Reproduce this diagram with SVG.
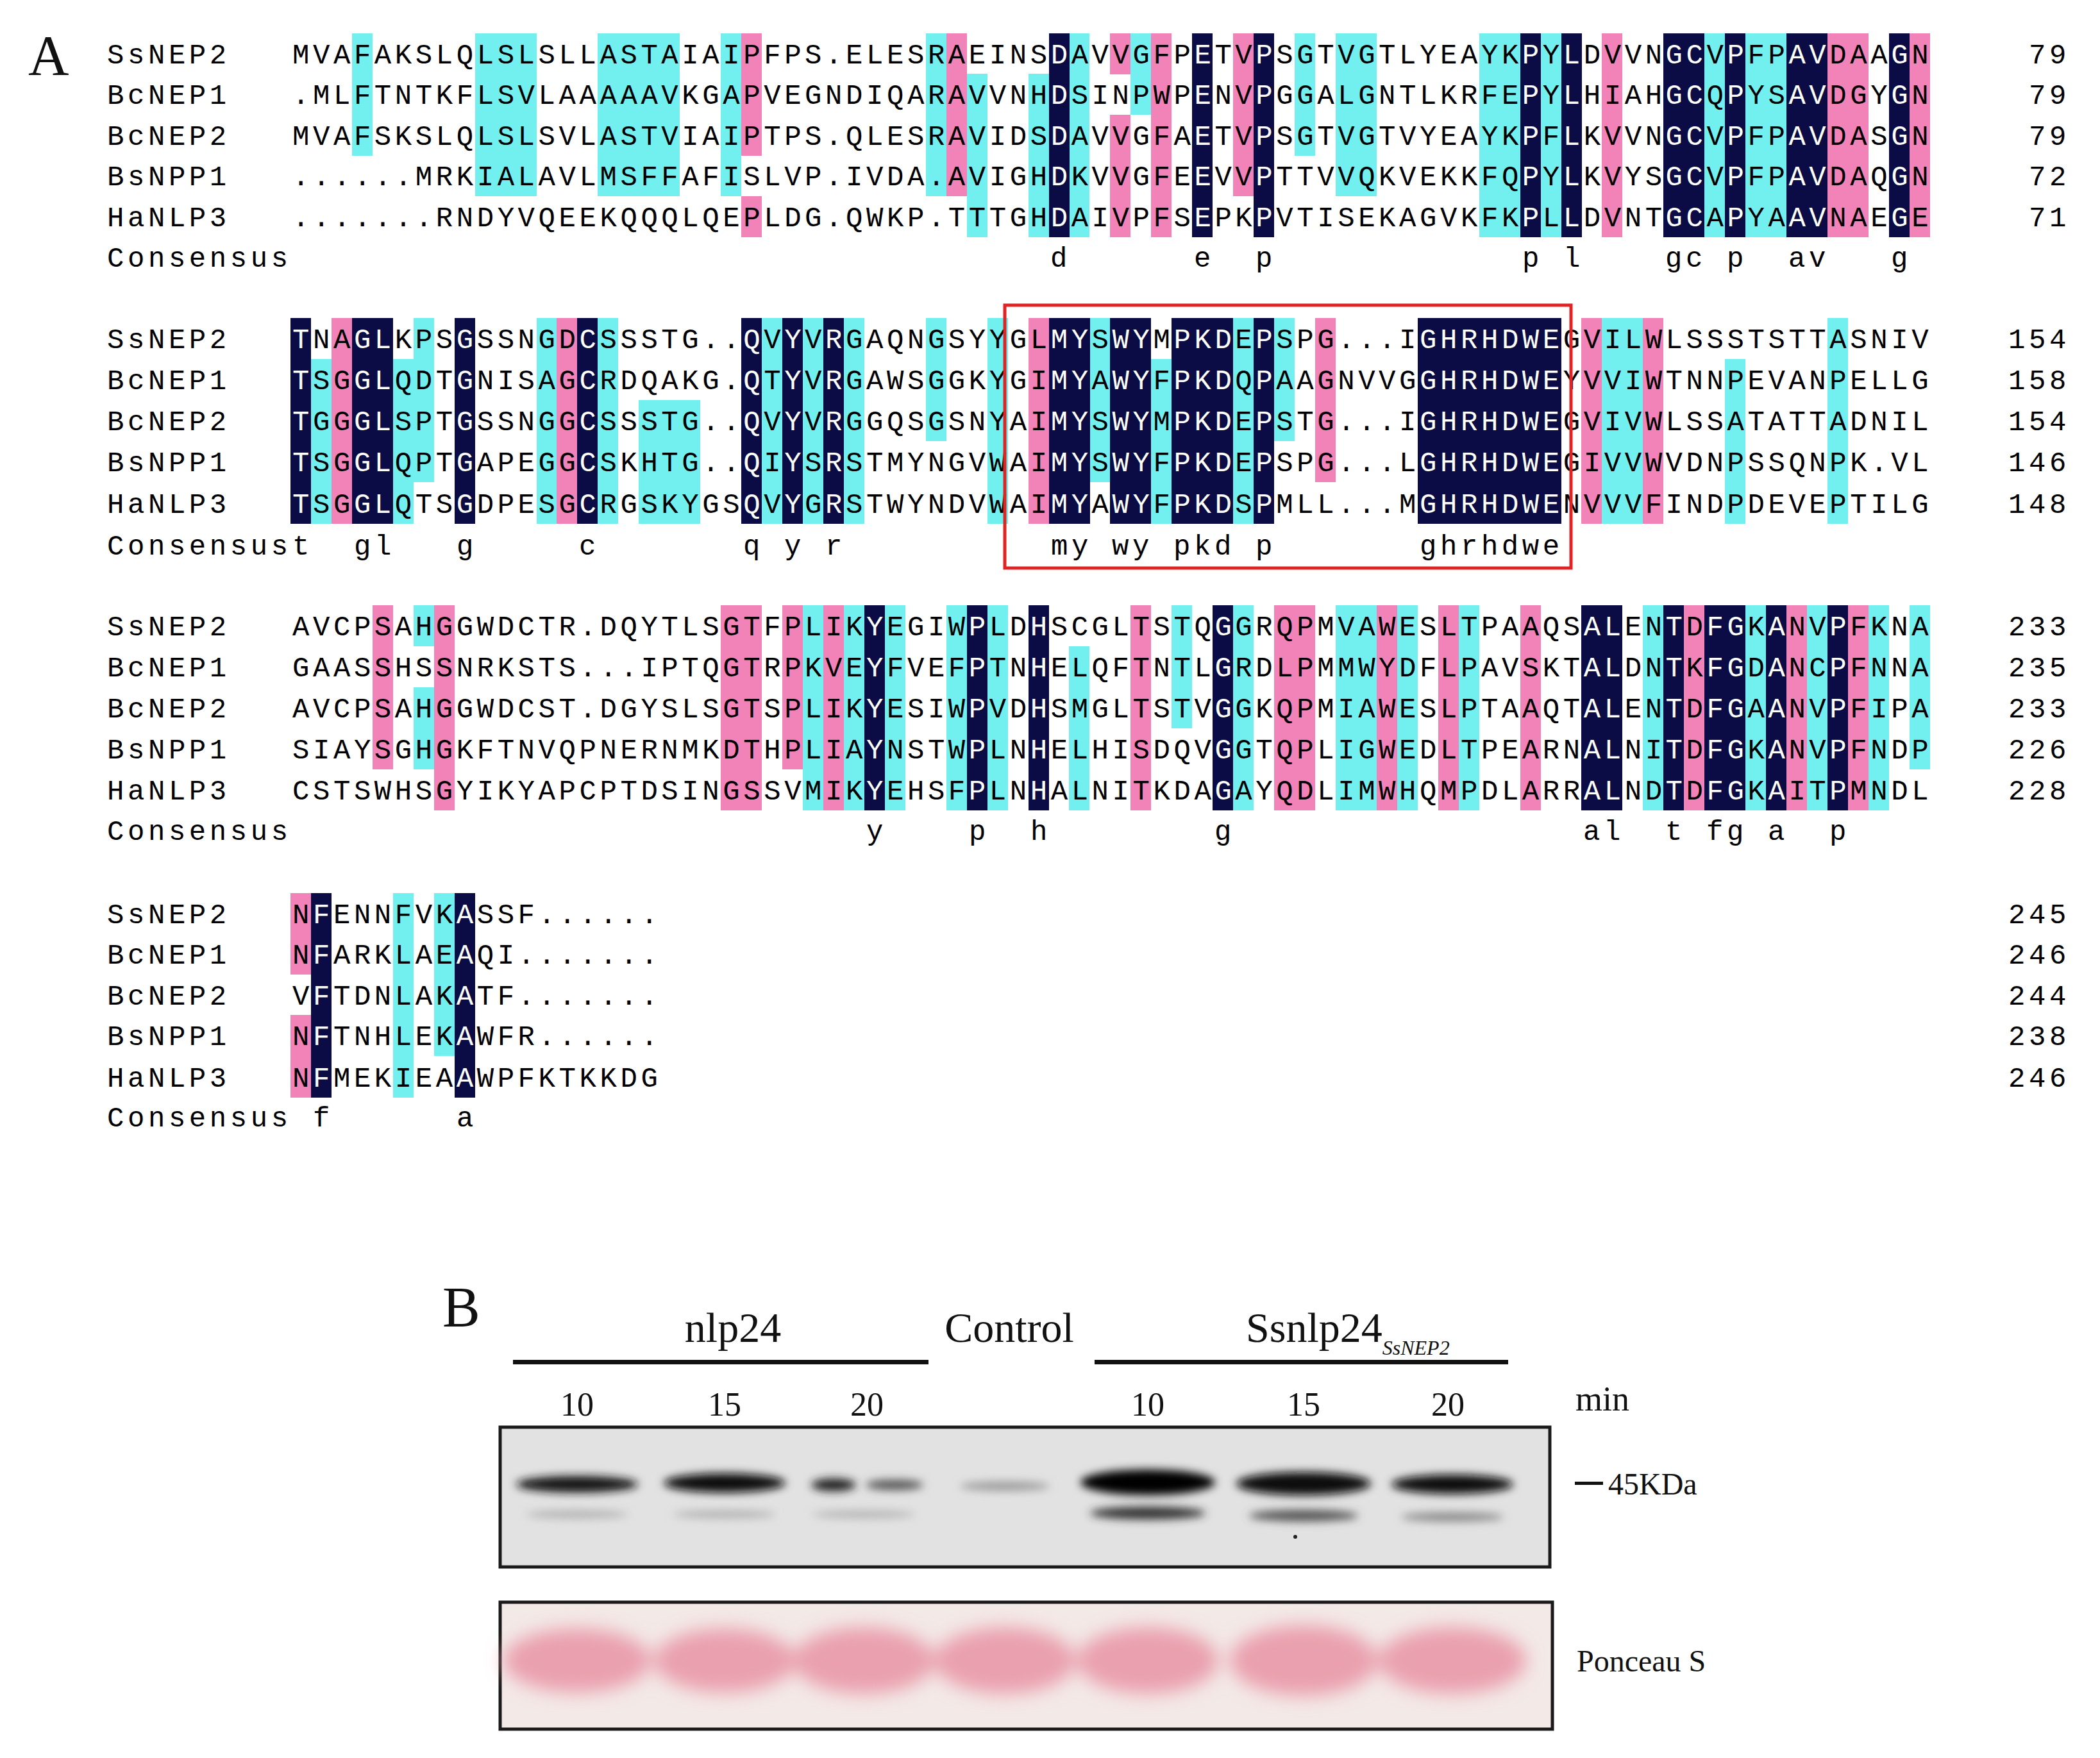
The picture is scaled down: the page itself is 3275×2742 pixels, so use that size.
<svg xmlns="http://www.w3.org/2000/svg" xmlns:xlink="http://www.w3.org/1999/xlink" width="3275" height="2742" viewBox="0 0 3275 2742">
<style>
.seq{font-family:"Liberation Mono","DejaVu Sans Mono",monospace;font-size:44px;letter-spacing:5.56px}
.nv{fill:#0b0b45}.pk{fill:#f283b9}.cy{fill:#72f0ef}
.ser{font-family:"Liberation Serif","DejaVu Serif",serif;fill:#111}
.num{text-anchor:end}
</style>
<defs>
<filter id="bl" x="-30%" y="-100%" width="160%" height="300%"><feGaussianBlur stdDeviation="7"/></filter>
<filter id="bl2" x="-30%" y="-60%" width="160%" height="220%"><feGaussianBlur stdDeviation="14"/></filter>
<path id="n1" d="M1636 52h32v318h-32zM1859 52h32v318h-32zM1955 52h32v318h-32zM2371 52h32v318h-32zM2435 52h32v318h-32zM2594 52h64v318h-64zM2690 52h32v318h-32zM2786 52h64v318h-64zM2946 52h32v318h-32z"/>
<path id="n2" d="M453 496h32v321h-32zM549 496h64v321h-64zM709 496h32v321h-32zM900 496h32v321h-32zM1156 496h32v321h-32zM1220 496h32v321h-32zM1284 496h32v321h-32zM1636 496h64v321h-64zM1731 496h64v321h-64zM1827 496h96v321h-96zM1955 496h32v321h-32zM2211 496h224v321h-224z"/>
<path id="n3" d="M1348 944h32v320h-32zM1508 944h32v320h-32zM1604 944h32v320h-32zM1891 944h32v320h-32zM2466 944h64v320h-64zM2594 944h32v320h-32zM2658 944h64v320h-64zM2754 944h32v320h-32zM2850 944h32v320h-32z"/>
<path id="n4" d="M485 1393h32v319h-32zM709 1393h32v319h-32z"/>
<clipPath id="c1"><use xlink:href="#n1"/></clipPath>
<clipPath id="c2"><use xlink:href="#n2"/></clipPath>
<clipPath id="c3"><use xlink:href="#n3"/></clipPath>
<clipPath id="c4"><use xlink:href="#n4"/></clipPath>
</defs>
<rect width="3275" height="2742" fill="#fff"/>
<text class="ser" x="44" y="116" font-size="88">A</text>

<g id="block1">
<path class="cy" d="M549 52h32v191h-32zM741 52h96v254h-96zM932 52h128v254h-128zM1124 52h32v254h-32zM1444 52h32v254h-32zM1508 115h32v255h-32zM1604 115h32v255h-32zM1667 52h32v318h-32zM1763 52h32v127h-32zM2019 52h32v191h-32zM2083 52h64v254h-64zM2307 52h64v318h-64zM2403 52h32v318h-32zM2658 52h32v318h-32zM2722 52h64v318h-64z"/>
<path class="pk" d="M1156 52h32v191h-32zM1156 306h32v64h-32zM1476 52h32v254h-32zM1731 52h32v64h-32zM1731 179h32v191h-32zM1795 52h32v318h-32zM1923 52h32v254h-32zM2498 52h32v318h-32zM2850 52h64v318h-64zM2978 52h32v318h-32z"/>
<use xlink:href="#n1" class="nv"/>
<g id="t1" class="seq">
<text x="167" y="99">SsNEP2</text><text x="456" y="99">MVAFAKSLQLSLSLLASTAIAIPFPS.ELESRAEINSDAVVGFPETVPSGTVGTLYEAYKPYLDVVNGCVPFPAVDAAGN</text>
<text x="167" y="162">BcNEP1</text><text x="456" y="162">.MLFTNTKFLSVLAAAAAVKGAPVEGNDIQARAVVNHDSINPWPENVPGGALGNTLKRFEPYLHIAHGCQPYSAVDGYGN</text>
<text x="167" y="226">BcNEP2</text><text x="456" y="226">MVAFSKSLQLSLSVLASTVIAIPTPS.QLESRAVIDSDAVVGFAETVPSGTVGTVYEAYKPFLKVVNGCVPFPAVDASGN</text>
<text x="167" y="289">BsNPP1</text><text x="456" y="289">......MRKIALAVLMSFFAFISLVP.IVDA.AVIGHDKVVGFEEVVPTTVVQKVEKKFQPYLKVYSGCVPFPAVDAQGN</text>
<text x="167" y="353">HaNLP3</text><text x="456" y="353">.......RNDYVQEEKQQQLQEPLDG.QWKP.TTTGHDAIVPFSEPKPVTISEKAGVKFKPLLDVNTGCAPYAAVNAEGE</text>
</g>
<use xlink:href="#t1" fill="#fff" clip-path="url(#c1)"/>
<g class="seq">
<text x="167" y="416">Consensus</text>
<text y="416"><tspan x="1638">d</tspan><tspan x="1862">e</tspan><tspan x="1958">p</tspan><tspan x="2374">p</tspan><tspan x="2438">l</tspan><tspan x="2597">gc</tspan><tspan x="2693">p</tspan><tspan x="2789">av</tspan><tspan x="2949">g</tspan></text>
<text class="num" x="3228" y="99">79</text><text class="num" x="3228" y="162">79</text><text class="num" x="3228" y="226">79</text><text class="num" x="3228" y="289">72</text><text class="num" x="3228" y="353">71</text>
</g>
</g>

<g id="block2">
<path class="cy" d="M485 560h32v257h-32zM613 560h32v257h-32zM645 496h32v256h-32zM837 496h32v321h-32zM932 496h32v321h-32zM996 624h96v193h-96zM1188 496h32v321h-32zM1252 496h32v321h-32zM1316 496h32v321h-32zM1444 496h32v192h-32zM1540 496h32v321h-32zM1699 496h32v256h-32zM1795 560h32v257h-32zM1923 496h32v321h-32zM1987 496h32v192h-32zM2498 496h64v321h-64zM2690 560h32v257h-32zM2850 496h32v321h-32z"/>
<path class="pk" d="M517 496h32v321h-32zM868 496h32v321h-32zM1604 496h32v321h-32zM2051 496h32v256h-32zM2466 496h32v321h-32zM2562 496h32v321h-32z"/>
<use xlink:href="#n2" class="nv"/>
<g id="t2" class="seq">
<text x="167" y="543">SsNEP2</text><text x="456" y="543">TNAGLKPSGSSNGDCSSSTG..QVYVRGAQNGSYYGLMYSWYMPKDEPSPG...IGHRHDWEGVILWLSSSTSTTASNIV</text>
<text x="167" y="607">BcNEP1</text><text x="456" y="607">TSGGLQDTGNISAGCRDQAKG.QTYVRGAWSGGKYGIMYAWYFPKDQPAAGNVVGGHRHDWEYVVIWTNNPEVANPELLG</text>
<text x="167" y="671">BcNEP2</text><text x="456" y="671">TGGGLSPTGSSNGGCSSSTG..QVYVRGGQSGSNYAIMYSWYMPKDEPSTG...IGHRHDWEGVIVWLSSATATTADNIL</text>
<text x="167" y="735">BsNPP1</text><text x="456" y="735">TSGGLQPTGAPEGGCSKHTG..QIYSRSTMYNGVWAIMYSWYFPKDEPSPG...LGHRHDWEGIVVWVDNPSSQNPK.VL</text>
<text x="167" y="800">HaNLP3</text><text x="456" y="800">TSGGLQTSGDPESGCRGSKYGSQVYGRSTWYNDVWAIMYAWYFPKDSPMLL...MGHRHDWENVVVFINDPDEVEPTILG</text>
</g>
<use xlink:href="#t2" fill="#fff" clip-path="url(#c2)"/>
<g class="seq">
<text x="167" y="865">Consensus</text>
<text y="865"><tspan x="456">t</tspan><tspan x="552">gl</tspan><tspan x="712">g</tspan><tspan x="903">c</tspan><tspan x="1159">q</tspan><tspan x="1223">y</tspan><tspan x="1287">r</tspan><tspan x="1639">my</tspan><tspan x="1734">wy</tspan><tspan x="1830">pkd</tspan><tspan x="1958">p</tspan><tspan x="2214">ghrhdwe</tspan></text>
<text class="num" x="3228" y="543">154</text><text class="num" x="3228" y="607">158</text><text class="num" x="3228" y="671">154</text><text class="num" x="3228" y="735">146</text><text class="num" x="3228" y="800">148</text>
</g>
<rect x="1567" y="476" width="883" height="410" fill="none" stroke="#e02424" stroke-width="5"/>
</g>

<g id="block3">
<path class="cy" d="M645 944h32v64h-32zM645 1072h32v128h-32zM1252 944h32v320h-32zM1316 944h32v320h-32zM1380 944h32v320h-32zM1476 944h32v320h-32zM1540 944h32v320h-32zM1667 1008h32v256h-32zM1827 944h32v192h-32zM1923 944h32v320h-32zM2083 944h64v320h-64zM2179 944h32v320h-32zM2275 944h32v320h-32zM2562 944h32v320h-32zM2722 944h32v320h-32zM2818 944h32v320h-32zM2914 944h32v320h-32zM2978 944h32v256h-32z"/>
<path class="pk" d="M581 944h32v256h-32zM677 944h32v320h-32zM1124 944h64v320h-64zM1220 944h32v256h-32zM1284 944h32v320h-32zM1763 944h32v320h-32zM1987 944h64v320h-64zM2147 944h32v320h-32zM2243 944h32v320h-32zM2371 944h32v320h-32zM2626 944h32v320h-32zM2786 944h32v320h-32zM2882 944h32v320h-32z"/>
<use xlink:href="#n3" class="nv"/>
<g id="t3" class="seq">
<text x="167" y="991">SsNEP2</text><text x="456" y="991">AVCPSAHGGWDCTR.DQYTLSGTFPLIKYEGIWPLDHSCGLTSTQGGRQPMVAWESLTPAAQSALENTDFGKANVPFKNA</text>
<text x="167" y="1055">BcNEP1</text><text x="456" y="1055">GAASSHSSNRKSTS...IPTQGTRPKVEYFVEFPTNHELQFTNTLGRDLPMMWYDFLPAVSKTALDNTKFGDANCPFNNA</text>
<text x="167" y="1119">BcNEP2</text><text x="456" y="1119">AVCPSAHGGWDCST.DGYSLSGTSPLIKYESIWPVDHSMGLTSTVGGKQPMIAWESLPTAAQTALENTDFGAANVPFIPA</text>
<text x="167" y="1183">BsNPP1</text><text x="456" y="1183">SIAYSGHGKFTNVQPNERNMKDTHPLIAYNSTWPLNHELHISDQVGGTQPLIGWEDLTPEARNALNITDFGKANVPFNDP</text>
<text x="167" y="1247">HaNLP3</text><text x="456" y="1247">CSTSWHSGYIKYAPCPTDSINGSSVMIKYEHSFPLNHALNITKDAGAYQDLIMWHQMPDLARRALNDTDFGKAITPMNDL</text>
</g>
<use xlink:href="#t3" fill="#fff" clip-path="url(#c3)"/>
<g class="seq">
<text x="167" y="1310">Consensus</text>
<text y="1310"><tspan x="1351">y</tspan><tspan x="1511">p</tspan><tspan x="1607">h</tspan><tspan x="1894">g</tspan><tspan x="2469">al</tspan><tspan x="2597">t</tspan><tspan x="2661">fg</tspan><tspan x="2757">a</tspan><tspan x="2853">p</tspan></text>
<text class="num" x="3228" y="991">233</text><text class="num" x="3228" y="1055">235</text><text class="num" x="3228" y="1119">233</text><text class="num" x="3228" y="1183">226</text><text class="num" x="3228" y="1247">228</text>
</g>
</g>

<g id="block4">
<path class="cy" d="M613 1393h32v319h-32zM677 1393h32v254h-32z"/>
<path class="pk" d="M453 1393h32v127h-32zM453 1583h32v129h-32z"/>
<use xlink:href="#n4" class="nv"/>
<g id="t4" class="seq">
<text x="167" y="1440">SsNEP2</text><text x="456" y="1440">NFENNFVKASSF......</text>
<text x="167" y="1503">BcNEP1</text><text x="456" y="1503">NFARKLAEAQI.......</text>
<text x="167" y="1567">BcNEP2</text><text x="456" y="1567">VFTDNLAKATF.......</text>
<text x="167" y="1630">BsNPP1</text><text x="456" y="1630">NFTNHLEKAWFR......</text>
<text x="167" y="1695">HaNLP3</text><text x="456" y="1695">NFMEKIEAAWPFKTKKDG</text>
</g>
<use xlink:href="#t4" fill="#fff" clip-path="url(#c4)"/>
<g class="seq">
<text x="167" y="1757">Consensus</text>
<text y="1757"><tspan x="488">f</tspan><tspan x="712">a</tspan></text>
<text class="num" x="3228" y="1440">245</text><text class="num" x="3228" y="1503">246</text><text class="num" x="3228" y="1567">244</text><text class="num" x="3228" y="1630">238</text><text class="num" x="3228" y="1695">246</text>
</g>
</g>

<g id="panelB">
<text class="ser" x="690" y="2068" font-size="88">B</text>
<text class="ser" x="1143" y="2093" font-size="66" text-anchor="middle">nlp24</text>
<text class="ser" x="1574" y="2093" font-size="66" text-anchor="middle">Control</text>
<text class="ser" x="1943" y="2093" font-size="66">Ssnlp24<tspan font-size="32" font-style="italic" dy="20">SsNEP2</tspan></text>
<rect x="800" y="2121" width="648" height="7" fill="#111"/>
<rect x="1707" y="2121" width="645" height="7" fill="#111"/>
<g class="ser" font-size="52" text-anchor="middle">
<text x="900" y="2208">10</text><text x="1130" y="2208">15</text><text x="1352" y="2208">20</text>
<text x="1790" y="2208">10</text><text x="2033" y="2208">15</text><text x="2258" y="2208">20</text>
</g>
<text class="ser" x="2457" y="2200" font-size="54">min</text>
<rect x="780" y="2226" width="1637" height="218" fill="#e2e2e2" stroke="#1a1a1a" stroke-width="5"/>
<g filter="url(#bl)">
<ellipse cx="900" cy="2315" rx="95" ry="13" fill="#151515"/>
<ellipse cx="1130" cy="2313" rx="95" ry="15" fill="#111"/>
<ellipse cx="1300" cy="2316" rx="35" ry="10" fill="#222"/>
<ellipse cx="1395" cy="2316" rx="45" ry="8" fill="#555"/>
<ellipse cx="1567" cy="2318" rx="70" ry="7" fill="#9a9a9a"/>
<ellipse cx="1790" cy="2312" rx="105" ry="20" fill="#050505"/>
<ellipse cx="2033" cy="2314" rx="105" ry="18" fill="#080808"/>
<ellipse cx="2265" cy="2315" rx="95" ry="15" fill="#111"/>
<ellipse cx="900" cy="2362" rx="80" ry="6" fill="#b0b0b0"/>
<ellipse cx="1130" cy="2362" rx="80" ry="6" fill="#b0b0b0"/>
<ellipse cx="1347" cy="2362" rx="80" ry="6" fill="#b4b4b4"/>
<ellipse cx="1790" cy="2360" rx="90" ry="10" fill="#333"/>
<ellipse cx="2033" cy="2364" rx="85" ry="9" fill="#555"/>
<ellipse cx="2265" cy="2366" rx="80" ry="7" fill="#888"/>
</g>
<circle cx="2020" cy="2397" r="3" fill="#222"/>
<rect x="2456" y="2311" width="44" height="5" fill="#111"/>
<text class="ser" x="2508" y="2331" font-size="48">45KDa</text>
<rect x="780" y="2499" width="1641" height="198" fill="#f3e9e7" stroke="#1a1a1a" stroke-width="5"/>
<g filter="url(#bl2)" fill="#eaa0ae">
<ellipse cx="900" cy="2590" rx="115" ry="50"/>
<ellipse cx="1130" cy="2590" rx="110" ry="50"/>
<ellipse cx="1347" cy="2590" rx="110" ry="52"/>
<ellipse cx="1567" cy="2590" rx="110" ry="52"/>
<ellipse cx="1790" cy="2590" rx="110" ry="52"/>
<ellipse cx="2033" cy="2590" rx="115" ry="55"/>
<ellipse cx="2265" cy="2590" rx="115" ry="52"/>
</g>
<text class="ser" x="2459" y="2607" font-size="48">Ponceau S</text>
</g>
</svg>
